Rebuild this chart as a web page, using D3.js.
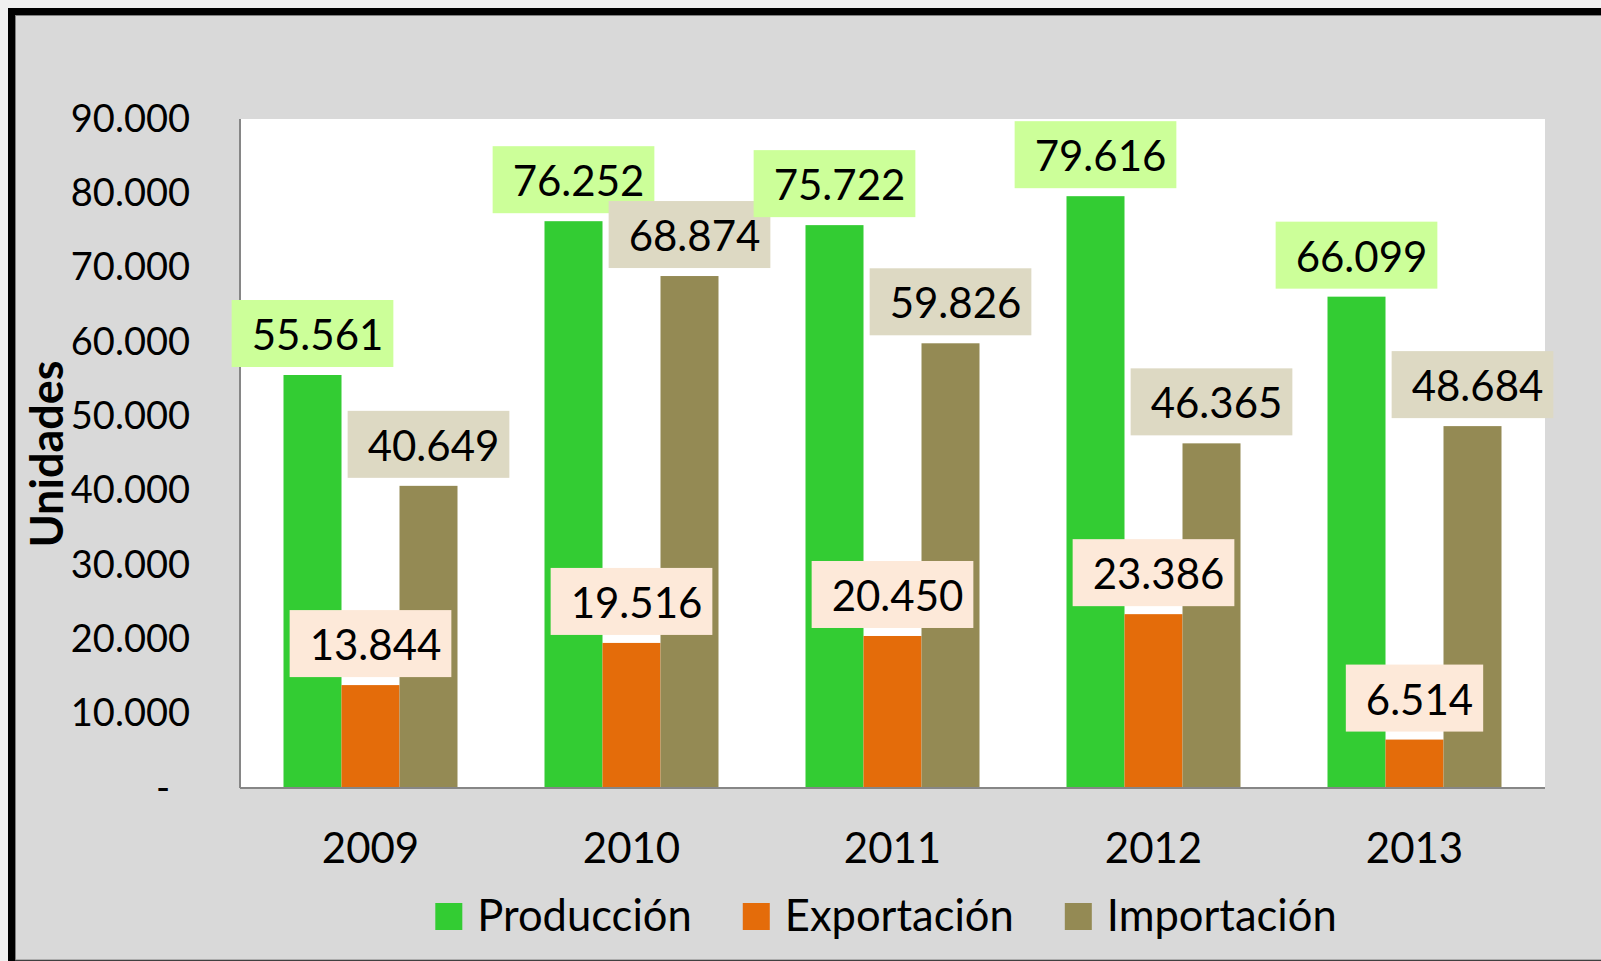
<!DOCTYPE html>
<html>
<head>
<meta charset="utf-8">
<script src="https://cdn.jsdelivr.net/npm/d3@7"></script>
<style>
  html, body { margin: 0; padding: 0; background: #f0f0f0; }
  svg { display: block; }
  text { font-family: Lato, 'Open Sans', sans-serif; fill: #000; }
</style>
</head>
<body>
<svg id="chart"></svg>
<script>
// data
const years = ['2009', '2010', '2011', '2012', '2013'];
const seriesNames = ['Producción', 'Exportación', 'Importación'];
const produccion = [55561, 76252, 75722, 79616, 66099];
const exportacion = [13844, 19516, 20450, 23386, 6514];
const importacion = [40649, 68874, 59826, 46365, 48684];
const yTicks = [0, 10000, 20000, 30000, 40000, 50000, 60000, 70000, 80000, 90000];

const seriesValues = [produccion, exportacion, importacion];

class GroupedBarChart {
  constructor(_config) {
    this.config = {
      parentElement: _config.parentElement,
      containerWidth: 1601,
      containerHeight: 961,
      margin: { top: 119, right: 56, bottom: 173, left: 240 },
      colors: ['#33cc33', '#e46c0a', '#948a54'],
      labelFills: ['#ccff99', '#fde9d9', '#ddd9c3'],
      labelHeight: 67,
      labelGap: 8,
    };
    this.initVis();
  }

  initVis() {
    const vis = this;
    const cfg = vis.config;

    vis.width = cfg.containerWidth - cfg.margin.left - cfg.margin.right;
    vis.height = cfg.containerHeight - cfg.margin.top - cfg.margin.bottom;

    vis.svg = d3.select(cfg.parentElement)
      .attr('width', cfg.containerWidth)
      .attr('height', cfg.containerHeight);

    // frame: black top/left edge, grey chart area
    vis.svg.append('rect')
      .attr('x', 8).attr('y', 8)
      .attr('width', cfg.containerWidth).attr('height', cfg.containerHeight - 8)
      .attr('fill', '#000');
    vis.svg.append('rect')
      .attr('x', 15.5).attr('y', 15.5)
      .attr('width', cfg.containerWidth).attr('height', 944.5)
      .attr('fill', '#d9d9d9')
      .attr('stroke', '#808080')
      .attr('stroke-width', 1);

    vis.chart = vis.svg.append('g')
      .attr('transform', `translate(${cfg.margin.left},${cfg.margin.top})`);

    // plot area
    vis.chart.append('rect')
      .attr('width', vis.width)
      .attr('height', vis.height)
      .attr('fill', '#fff');

    vis.xScale = d3.scaleBand()
      .domain(years)
      .range([0, vis.width]);

    // bars take the middle two thirds of each category
    vis.xSeries = d3.scaleBand()
      .domain(seriesNames)
      .range([vis.xScale.bandwidth() / 6, vis.xScale.bandwidth() * 5 / 6]);

    vis.yScale = d3.scaleLinear()
      .domain([0, 90000])
      .range([vis.height, 0]);

    vis.color = d3.scaleOrdinal().domain(seriesNames).range(cfg.colors);
    vis.labelFill = d3.scaleOrdinal().domain(seriesNames).range(cfg.labelFills);

    const locale = d3.formatLocale({ decimal: ',', thousands: '.', grouping: [3], currency: ['', ''] });
    vis.fmt = locale.format(',');

    vis.data = [];
    years.forEach((year, i) => {
      seriesNames.forEach((s, j) => {
        vis.data.push({ year, series: s, value: seriesValues[j][i] });
      });
    });

    vis.renderVis();
  }

  renderVis() {
    const vis = this;
    const cfg = vis.config;

    // y axis
    const yAxis = d3.axisLeft(vis.yScale)
      .tickValues(yTicks)
      .tickSize(0)
      .tickPadding(50)
      .tickFormat((d) => (d === 0 ? '-' : vis.fmt(d)));

    const yAxisG = vis.chart.append('g').call(yAxis);
    yAxisG.select('.domain').remove();
    yAxisG.selectAll('text')
      .attr('font-size', 38)
      .attr('font-family', 'Lato')
      .attr('fill', '#000')
      .attr('dx', (d) => (d === 0 ? -20 : 0));

    // x axis
    const xAxis = d3.axisBottom(vis.xScale)
      .tickSize(0)
      .tickPadding(45);

    const xAxisG = vis.chart.append('g')
      .attr('transform', `translate(0,${vis.height})`)
      .call(xAxis);
    xAxisG.select('.domain').remove();
    xAxisG.selectAll('text')
      .attr('font-size', 42)
      .attr('font-family', 'Lato')
      .attr('fill', '#000');

    // bars
    const barX = (d) => vis.xScale(d.year) + vis.xSeries(d.series);
    vis.chart.selectAll('.bar')
      .data(vis.data)
      .join('rect')
      .attr('class', 'bar')
      .attr('x', barX)
      .attr('y', (d) => vis.yScale(d.value))
      .attr('width', vis.xSeries.bandwidth())
      .attr('height', (d) => vis.height - vis.yScale(d.value))
      .attr('fill', (d) => vis.color(d.series));

    // axis lines
    vis.chart.append('line')
      .attr('x1', 0).attr('x2', 0)
      .attr('y1', 0).attr('y2', vis.height)
      .attr('stroke', '#868686').attr('stroke-width', 2);
    vis.chart.append('line')
      .attr('x1', 0).attr('x2', vis.width)
      .attr('y1', vis.height).attr('y2', vis.height)
      .attr('stroke', '#868686').attr('stroke-width', 2);

    // data labels in filled boxes above each bar
    const labels = vis.chart.selectAll('.data-label')
      .data(vis.data)
      .join('g')
      .attr('class', 'data-label');

    labels.append('rect');
    labels.append('text')
      .attr('font-size', 42)
      .text((d) => vis.fmt(d.value));

    labels.each(function (d) {
      const g = d3.select(this);
      const tw = g.select('text').node().getComputedTextLength();
      const w = tw + 30;
      const cx = barX(d) + vis.xSeries.bandwidth() / 2;
      const bottom = vis.yScale(d.value) - cfg.labelGap;
      g.select('rect')
        .attr('x', cx - w / 2)
        .attr('y', bottom - cfg.labelHeight)
        .attr('width', w)
        .attr('height', cfg.labelHeight)
        .attr('fill', vis.labelFill(d.series));
      g.select('text')
        .attr('x', cx - w / 2 + 20)
        .attr('y', bottom - 17);
    });

    // y axis title
    vis.svg.append('text')
      .attr('transform', 'translate(63,454) rotate(-90)')
      .attr('text-anchor', 'middle')
      .attr('font-size', 45)
      .attr('font-weight', 'bold')
      .text('Unidades');

    vis.renderLegend();
  }

  renderLegend() {
    const vis = this;
    const legend = vis.svg.append('g').attr('class', 'legend');

    const items = legend.selectAll('.legend-item')
      .data(seriesNames)
      .join('g')
      .attr('class', 'legend-item');

    items.append('rect')
      .attr('y', 903)
      .attr('width', 27)
      .attr('height', 27)
      .attr('fill', (d) => vis.color(d));

    items.append('text')
      .attr('x', 42)
      .attr('y', 931)
      .attr('font-size', 43.5)
      .text((d) => d);

    // lay items out side by side, centred
    const widths = [];
    items.each(function () {
      widths.push(42 + d3.select(this).select('text').node().getComputedTextLength());
    });
    const gap = 51;
    const total = d3.sum(widths) + gap * (widths.length - 1);
    let x = 886 - total / 2;
    items.each(function (d, i) {
      d3.select(this).attr('transform', `translate(${x},0)`);
      x += widths[i] + gap;
    });
  }
}

const chart = new GroupedBarChart({ parentElement: '#chart' });
</script>
</body>
</html>
